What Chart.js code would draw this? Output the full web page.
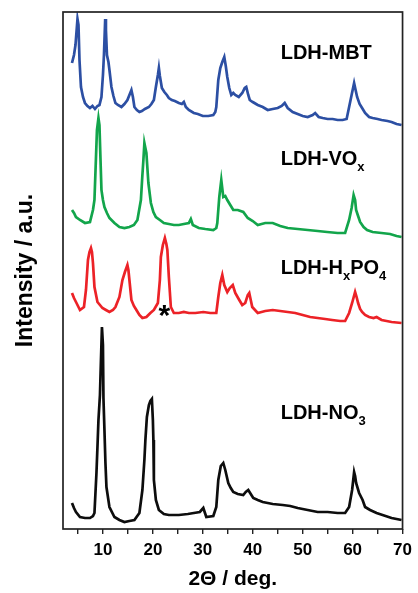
<!DOCTYPE html>
<html>
<head>
<meta charset="utf-8">
<script src="https://cdn.jsdelivr.net/npm/chart.js@4.4.1/dist/chart.umd.min.js"></script>
<style>
  html, body { margin: 0; padding: 0; background: #fff; }
  canvas { display: block; }
</style>
</head>
<body>
<canvas id="xrd" width="418" height="593"></canvas>
<script>
// 2-theta (deg) vs. offset intensity, one array per sample
const mbt = [
  [3.8,466],[4.2,474],[4.5,484],[4.9,510],[5.1,504],[5.3,469],[5.6,442],[6.0,432],[6.4,426],[6.9,423],
  [7.4,421],[7.9,423],[8.4,420],[8.9,423],[9.3,424],[9.7,432],[10.0,454],[10.2,474],[10.45,510],[10.6,499],
  [10.8,474],[11.1,467],[11.3,459],[11.7,442],[12.1,433],[12.5,426],[13.0,424],[13.7,422],[14.3,425],[14.9,429],
  [15.3,434],[15.7,439],[16.0,432],[16.3,422],[16.8,419],[17.3,417],[17.8,418],[18.4,420],[19.2,422],[19.7,425],
  [20.2,429],[20.6,442],[21.0,454],[21.2,461],[21.4,453],[21.8,441],[22.3,437],[22.8,434],[23.2,431],[23.8,429],
  [24.4,428],[25.2,426],[25.8,425],[26.2,427],[26.6,422],[27.2,419],[28.2,416],[29.0,415],[30.0,413],[31.1,413],
  [32.1,414],[32.5,417],[32.7,422],[33.1,449],[33.5,461],[33.9,467],[34.3,472],[34.6,463],[34.9,452],[35.3,441],
  [35.7,434],[36.1,436],[36.5,434],[37.2,432],[37.9,436],[38.4,441],[38.7,442],[39.1,434],[39.4,429],[40.0,427],
  [41.0,424],[42.0,422],[43.0,419],[44.0,420],[45.0,421],[45.8,423],[46.4,426],[47.0,421],[48.0,417],[49.0,415],
  [50.0,413],[51.0,412],[52.0,414],[52.5,416],[53.2,412],[54.0,411],[55.0,410],[56.0,410],[57.0,409],[58.0,409],
  [58.8,410],[59.3,422],[59.8,434],[60.3,446],[60.6,439],[60.9,432],[61.4,425],[61.9,421],[62.5,416],[63.3,412],
  [64.0,411],[65.0,410],[65.8,409],[67.0,408],[67.8,407],[68.8,405],[69.8,404]
];
const vox = [
  [3.8,319],[4.2,316],[4.6,312],[5.4,309],[6.4,306],[7.4,307],[8.0,319],[8.3,329],[8.6,371],[8.8,399],
  [9.1,411],[9.3,404],[9.5,371],[9.7,339],[10.0,329],[10.3,322],[10.8,316],[11.3,311],[12.3,306],[13.3,302],
  [14.3,301],[15.3,302],[16.2,304],[16.9,309],[17.6,329],[17.9,354],[18.1,369],[18.3,386],[18.5,381],[18.7,376],
  [19.1,346],[19.6,326],[20.1,317],[20.6,312],[21.4,309],[22.2,306],[23.2,305],[24.2,304],[25.2,304],[26.2,305],
  [27.2,306],[27.6,310],[28.0,304],[29.2,301],[30.5,300],[32.1,299],[32.7,301],[32.9,306],[33.3,332],[33.7,349],
  [34.1,332],[34.5,333],[34.9,329],[35.5,324],[36.1,319],[37.0,319],[38.1,317],[39.0,311],[40.0,308],[41.0,304],
  [42.5,306],[44.0,306],[45.5,303],[47.0,301],[49.0,300],[51.0,299],[53.0,298],[54.9,297],[57.0,296],[58.5,296],
  [59.3,309],[59.8,321],[60.2,334],[60.5,329],[60.7,319],[61.1,313],[61.5,307],[62.2,302],[62.9,299],[64.0,297],
  [65.8,296],[67.5,295],[68.8,293],[69.8,292]
];
const hpo4 = [
  [3.8,236],[4.2,231],[4.6,227],[5.4,219],[6.2,222],[6.6,239],[7.0,269],[7.3,277],[7.6,281],[7.8,277],
  [8.0,266],[8.3,242],[8.9,227],[9.9,221],[10.6,219],[11.3,217],[12.0,219],[12.5,222],[13.3,232],[13.9,249],
  [14.4,257],[14.9,264],[15.1,259],[15.3,249],[15.7,229],[16.2,223],[16.7,219],[17.3,214],[17.9,211],[18.7,212],
  [19.5,216],[20.2,219],[21.0,226],[21.4,249],[21.6,272],[22.0,284],[22.4,291],[22.7,285],[22.9,279],[23.2,252],
  [23.6,222],[24.2,216],[25.2,216],[26.2,217],[27.2,216],[28.5,216],[30.1,217],[31.5,216],[32.7,216],[33.1,232],
  [33.5,246],[33.9,254],[34.3,244],[34.9,237],[35.4,241],[36.0,244],[36.5,236],[37.3,229],[37.9,224],[38.5,226],
  [39.0,234],[39.3,236],[39.6,229],[39.9,222],[41.0,216],[42.5,218],[44.0,219],[45.5,218],[47.0,217],[48.5,216],
  [50.0,214],[51.5,212],[53.0,211],[54.5,210],[55.9,209],[57.5,208],[58.5,208],[59.3,216],[59.9,226],[60.5,237],
  [60.8,232],[61.1,226],[61.5,220],[61.9,217],[62.5,214],[63.3,212],[64.2,211],[64.8,212],[65.8,209],[66.8,208],
  [67.8,207],[69.8,206]
];
const no3 = [
  [3.8,26],[4.2,21],[4.6,17],[5.4,12],[6.4,11],[7.4,11],[8.0,13],[8.3,16],[8.7,56],[8.9,82],
  [9.1,109],[9.4,134],[9.6,169],[9.8,202],[10.0,184],[10.1,131],[10.3,99],[10.5,66],[10.7,42],[11.3,22],
  [12.3,12],[13.3,9],[14.3,7],[15.3,8],[16.3,9],[17.3,16],[17.9,39],[18.3,69],[18.5,89],[18.8,112],
  [19.2,124],[19.5,128],[19.8,130],[20.0,109],[20.1,89],[20.2,49],[20.6,29],[21.2,19],[22.2,15],[23.2,14],
  [25.2,14],[27.0,15],[28.2,16],[29.4,17],[30.1,21],[30.5,15],[30.7,12],[32.1,13],[32.7,22],[33.1,49],
  [33.6,63],[34.1,66],[34.5,59],[35.1,46],[35.6,41],[36.1,37],[37.0,35],[38.1,34],[38.6,37],[39.1,39],
  [39.6,35],[40.1,31],[41.0,29],[42.0,27],[44.0,25],[46.0,24],[47.5,23],[49.0,21],[51.0,19],[53.0,17],
  [55.0,17],[57.0,16],[58.5,16],[59.3,22],[59.9,39],[60.3,57],[60.5,53],[60.7,46],[61.3,36],[62.0,29],
  [62.5,22],[63.5,19],[64.8,16],[66.0,14],[67.8,11],[69.8,9]
];

const seriesColors = ['#2c4fa3', '#12a54b', '#ec2227', '#0d0d0d'];
const tickValues = [5, 10, 15, 20, 25, 30, 35, 40, 45, 50, 55, 60, 65, 70];

// sample names: [main text, subscript] pieces
const sampleNames = [
  [['LDH-MBT', false]],
  [['LDH-VO', false], ['x', true]],
  [['LDH-H', false], ['x', true], ['PO', false], ['4', true]],
  [['LDH-NO', false], ['3', true]]
];

const FONT = "'Liberation Sans', Arial, sans-serif";

const frame = {
  id: 'frame',
  afterDatasetsDraw(chart) {
    const { ctx, chartArea: a, scales: { x, y } } = chart;
    ctx.save();
    ctx.strokeStyle = '#222';
    ctx.lineWidth = 1.7;
    ctx.strokeRect(a.left, a.top, a.right - a.left, a.bottom - a.top);

    // sample labels, anchored in data units
    const anchors = [[45.6, 470], [45.6, 364], [45.6, 255], [45.6, 110]];
    ctx.fillStyle = '#000';
    ctx.textBaseline = 'alphabetic';
    sampleNames.forEach((parts, i) => {
      let px = x.getPixelForValue(anchors[i][0]);
      const py = y.getPixelForValue(anchors[i][1]);
      parts.forEach(([t, sub]) => {
        ctx.font = sub ? `bold 13px ${FONT}` : `bold 20px ${FONT}`;
        ctx.fillText(t, px, sub ? py + 6 : py);
        px += ctx.measureText(t).width;
      });
    });

    // impurity marker
    ctx.font = `bold 30px ${FONT}`;
    ctx.textAlign = 'center';
    ctx.fillText('*', x.getPixelForValue(22.3), y.getPixelForValue(218) + 14);
    ctx.restore();
  }
};

const line = (data, color) => ({
  data: data.map(([t, c]) => ({ x: t, y: c })),
  borderColor: color,
  borderWidth: 2.7,
  borderJoinStyle: 'miter',
  pointRadius: 0,
  showLine: true,
  tension: 0
});

new Chart(document.getElementById('xrd'), {
  type: 'scatter',
  data: {
    datasets: [
      line(mbt, seriesColors[0]),
      line(vox, seriesColors[1]),
      line(hpo4, seriesColors[2]),
      line(no3, seriesColors[3])
    ]
  },
  options: {
    responsive: false,
    animation: false,
    layout: { padding: { top: 12, right: 12, left: 0, bottom: 0 } },
    plugins: { legend: { display: false }, tooltip: { enabled: false } },
    scales: {
      x: {
        type: 'linear',
        min: 2,
        max: 70,
        afterBuildTicks: s => { s.ticks = tickValues.map(v => ({ value: v })); },
        afterFit: s => { s.height = 64; },
        ticks: {
          autoSkip: false,
          maxRotation: 0,
          padding: 6,
          color: '#000',
          font: { family: FONT, size: 17, weight: 'bold' },
          callback: v => (v % 10 === 0 ? v : '')
        },
        grid: { drawOnChartArea: false, drawTicks: true, tickLength: 5, color: '#222', lineWidth: 1.4 },
        border: { display: false },
        title: {
          display: true,
          text: '2Θ / deg.',
          color: '#000',
          font: { family: FONT, size: 21, weight: 'bold' },
          padding: { top: 0, bottom: 1 }
        }
      },
      y: {
        min: 0,
        max: 517,
        afterFit: s => { s.width = 63; },
        ticks: { display: false },
        grid: { display: false },
        border: { display: false },
        title: {
          display: true,
          text: 'Intensity / a.u.',
          color: '#000',
          font: { family: FONT, size: 23, weight: 'bold' },
          padding: { top: 12, bottom: 0 }
        }
      }
    }
  },
  plugins: [frame]
});
</script>
</body>
</html>
